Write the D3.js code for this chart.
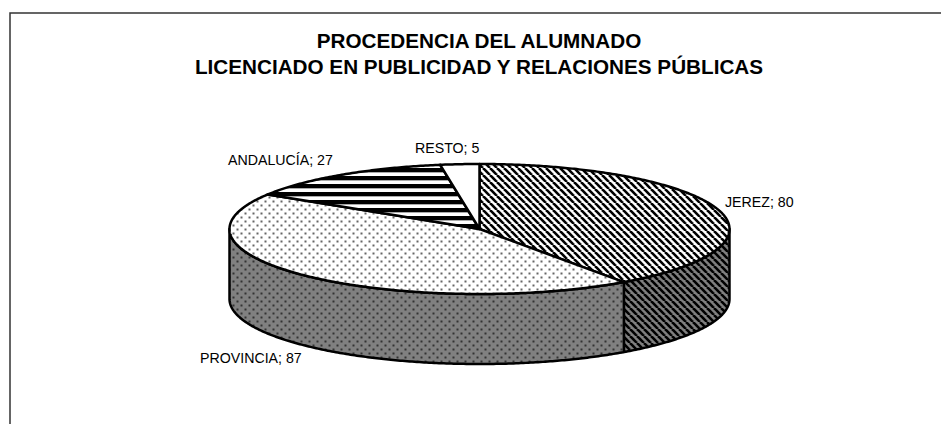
<!DOCTYPE html>
<html><head><meta charset="utf-8"><script src="https://cdn.jsdelivr.net/npm/d3@7"></script>
<style>html,body{margin:0;background:#fff}svg{display:block}text{font-family:"Liberation Sans",Arial,sans-serif;fill:#000}</style></head>
<body><svg id="c" width="941" height="424"></svg>
<script>
const categories=["JEREZ","PROVINCIA","ANDALUCÍA","RESTO"];
const values=[80,87,27,5];
const titleLines=["PROCEDENCIA DEL ALUMNADO","LICENCIADO EN PUBLICIDAD Y RELACIONES PÚBLICAS"];
const labelPos=[[725,207,"start"],[200,363,"start"],[228,165,"start"],[415,153,"start"]];

const svg=d3.select("#c");
const defs=svg.append("defs");
function pat(id,w,h,bg,draw){const p=defs.append("pattern").attr("id",id).attr("patternUnits","userSpaceOnUse").attr("width",w).attr("height",h);
 p.append("rect").attr("width",w).attr("height",h).attr("fill",bg);draw(p);}
const diag=(fg)=>p=>{[-7,0,7].forEach(o=>p.append("line").attr("x1",o).attr("y1",0).attr("x2",o+7).attr("y2",7).attr("stroke",fg).attr("stroke-width",2.6));};
const dots=(fg)=>p=>{[[1.5,1.5],[5.5,5.5]].forEach(d=>p.append("rect").attr("x",d[0]-1).attr("y",d[1]-1).attr("width",2).attr("height",2).attr("fill",fg));};
pat("pJ",7,7,"#fff",diag("#000"));
pat("pJs",7,7,"#7f7f7f",diag("#000"));
pat("pP",8,8,"#fff",dots("#666"));
pat("pPs",8,8,"#808080",dots("#333"));
pat("pA",8,8,"#fff",p=>{p.append("rect").attr("y",0).attr("width",8).attr("height",4).attr("fill","#000");p.append("rect").attr("y",4).attr("width",8).attr("height",1).attr("fill","#aaa");});
const tops=["url(#pJ)","url(#pP)","url(#pA)","#fff"];
const sides=["url(#pJs)","url(#pPs)","#555","#888"];

svg.append("path").attr("d",d3.line()([[10,424],[10,13],[941,13]])).attr("fill","none").attr("stroke","#333").attr("stroke-width",1.5);

const t=svg.append("text").attr("text-anchor","middle").attr("font-weight","bold").attr("font-size",20.7);
titleLines.forEach((l,i)=>t.append("tspan").attr("x",479).attr("y",47.5+i*26.5).text(l));

const cx=479.5,cy=229,rx=250,ry=65,depth=70;
const pie=d3.pie().sort(null)(values);
const X=d3.scaleLinear().domain([-1,1]).range([cx-rx,cx+rx]);
const Y=d3.scaleLinear().domain([-1,1]).range([cy-ry,cy+ry]);
const line=d3.line();
function arcPts(a0,a1,dy=0){const n=Math.max(2,Math.ceil((a1-a0)/0.01));
 return d3.range(n+1).map(i=>{const a=a0+(a1-a0)*i/n;return [X(Math.sin(a)),Y(-Math.cos(a))+dy];});}
const lim0=Math.PI/2,lim1=Math.PI*1.5;
const g=svg.append("g").attr("stroke","#000").attr("stroke-width",2.5).attr("stroke-linejoin","round");
pie.forEach((d,i)=>{const a0=Math.max(d.startAngle,lim0),a1=Math.min(d.endAngle,lim1);
 if(a1>a0){g.append("path").attr("d",line([...arcPts(a0,a1),...arcPts(a0,a1,depth).reverse()])+"Z").attr("fill",sides[i]);}});
pie.forEach((d,i)=>{g.append("path").attr("d",line([[X(0),Y(0)],...arcPts(d.startAngle,d.endAngle)])+"Z").attr("fill",tops[i]);});

categories.forEach((c,i)=>svg.append("text").attr("x",labelPos[i][0]).attr("y",labelPos[i][1]).attr("font-size",14.2).attr("text-anchor",labelPos[i][2]).text(c+"; "+values[i]));
</script></body></html>
